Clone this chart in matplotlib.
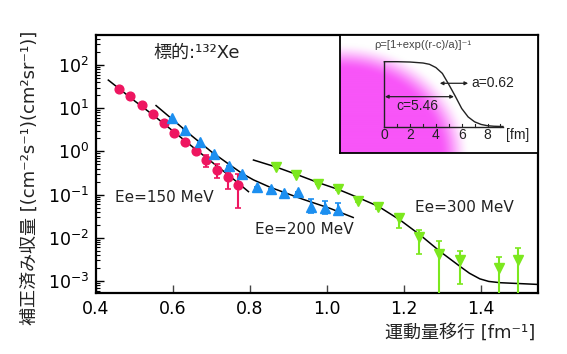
import numpy as np
import matplotlib
matplotlib.use("Agg")
import matplotlib.pyplot as plt

plt.rcParams['font.family'] = ['DejaVu Sans', 'Noto Sans CJK JP']
plt.rcParams['mathtext.fontset'] = 'dejavusans'

# ---- data ----
# Ee = 150 MeV
x150 = [0.460, 0.489, 0.519, 0.547, 0.576, 0.603, 0.632, 0.660, 0.687, 0.715, 0.743, 0.770]
y150 = [27.8, 19.5, 11.7, 7.35, 4.62, 2.71, 1.68, 1.00, 0.632, 0.372, 0.260, 0.167]
lo150 = [0, 0, 0, 0, 0, 0, 0, 0, 0.189, 0.134, 0.125, 0.119]
hi150 = [0, 0, 0, 0, 0, 0, 0, 0, 0.194, 0.130, 0.079, 0.128]

# Ee = 200 MeV
x200 = [0.598, 0.632, 0.670, 0.706, 0.745, 0.779, 0.819, 0.854, 0.889, 0.925, 0.959, 0.995, 1.029]
y200 = [5.83, 3.08, 1.68, 0.857, 0.468, 0.295, 0.152, 0.135, 0.111, 0.113, 0.0525, 0.0482, 0.0441]
lo200 = [0, 0, 0, 0, 0, 0, 0, 0, 0, 0, 0.0156, 0.0126, 0.0085]
hi200 = [0, 0, 0, 0, 0, 0, 0, 0, 0, 0, 0.0253, 0.0241, 0.0209]

# Ee = 300 MeV
x300 = [0.867, 0.920, 0.976, 1.029, 1.081, 1.133, 1.187, 1.240, 1.292, 1.345, 1.447, 1.497]
y300 = [0.427, 0.284, 0.179, 0.135, 0.0724, 0.0508, 0.0282, 0.0107, 0.00422, 0.00309, 0.00197, 0.00309]
lo300 = [0, 0, 0, 0.008, 0.006, 0.004, 0.0116, 0.0065, 0.004219, 0.00225, 0.001969, 0.003089]
hi300 = [0, 0, 0, 0.008, 0.006, 0.004, 0.0055, 0.0045, 0.00435, 0.00193, 0.00168, 0.00272]

# fitted curves
cx150 = [0.432, 0.500, 0.550, 0.600, 0.650, 0.700, 0.750, 0.796]
cy150 = [44.7, 14.8, 6.76, 2.95, 1.29, 0.575, 0.257, 0.117]
cx200 = [0.556, 0.600, 0.650, 0.700, 0.748, 0.781, 0.809, 0.852, 0.895, 0.938, 1.008, 1.068]
cy200 = [11.5, 5.37, 2.24, 0.977, 0.484, 0.302, 0.219, 0.148, 0.107, 0.0776, 0.0479, 0.0295]
cx300 = [0.809, 0.867, 0.920, 0.976, 1.029, 1.081, 1.133, 1.190, 1.242, 1.294, 1.345,
         1.370, 1.397, 1.420, 1.450, 1.500, 1.548]
cy300 = [0.631, 0.437, 0.295, 0.191, 0.132, 0.0851, 0.0537, 0.0257, 0.0116, 0.00479, 0.00219,
         0.00151, 0.00112, 0.000977, 0.000912, 0.000871, 0.000832]

# inset: charge density profile
r_fm = [0, 1, 2, 3, 3.5, 4, 4.5, 5, 5.5, 6, 6.5, 7, 7.5, 8, 8.5, 9.2]
rho = [1.0, 1.0, 0.995, 0.98, 0.96, 0.91, 0.82, 0.65, 0.47, 0.28, 0.15, 0.075, 0.035, 0.015, 0.007, 0.003]
inset_ticks = [0, 2, 4, 6, 8]

xticks = [0.4, 0.6, 0.8, 1.0, 1.2, 1.4]
xticklabels = ['0.4', '0.6', '0.8', '1.0', '1.2', '1.4']

c_red = '#ee1660'
c_blue = '#1c8ff0'
c_green = '#7ce81e'
inset_font = ['Liberation Sans', 'DejaVu Sans']

W, H = 567, 354
fig = plt.figure(figsize=(W / 100, H / 100), dpi=100)
L, R, T, B = 96, 538, 35, 293.3
ax = fig.add_axes([L / W, 1 - B / H, (R - L) / W, (B - T) / H])
ax.set_yscale('log')
ax.set_xlim(0.4, 1.548)
ax.set_ylim(10 ** -3.285, 10 ** 2.694)

for s in ax.spines.values():
    s.set_linewidth(1.6)
ax.set_xticks(xticks)
ax.set_xticklabels(xticklabels)
ax.tick_params(axis='x', which='major', direction='in', length=6, width=1, color='#444',
               labelsize=12.5, pad=5, top=False)
ax.tick_params(axis='x', which='minor', bottom=False, top=False)
ax.tick_params(axis='y', which='major', direction='in', length=5.5, width=1, labelsize=12.5,
               pad=5, right=False)
ax.tick_params(axis='y', which='minor', direction='in', length=3, width=0.8, right=False)
ax.yaxis.set_major_locator(matplotlib.ticker.LogLocator(base=10, numticks=12))
ax.yaxis.set_minor_locator(matplotlib.ticker.LogLocator(base=10, subs=np.arange(2, 10), numticks=12))

# curves
ax.plot(cx150, cy150, color='black', lw=1.1, zorder=2)
ax.plot(cx200, cy200, color='black', lw=1.1, zorder=2)
ax.plot(cx300, cy300, color='black', lw=1.1, zorder=2)

# data
ax.errorbar(x150, y150, yerr=[lo150, hi150], fmt='o', color=c_red, ms=6.3, mec=c_red,
            ecolor=c_red, elinewidth=1.5, capsize=2, capthick=1.2, zorder=3)
ax.errorbar(x200, y200, yerr=[lo200, hi200], fmt='^', color=c_blue, ms=7, mec=c_blue,
            ecolor=c_blue, elinewidth=1.5, capsize=2, capthick=1.2, zorder=3)
ax.errorbar(x300, y300, yerr=[lo300, hi300], fmt='v', color=c_green, ms=6.5, mec=c_green,
            ecolor=c_green, elinewidth=1.5, capsize=2, capthick=1.2, zorder=3)

# annotations
ax.text((153 - L) / (R - L), (B - 53) / (B - T), '標的:¹³²Xe', transform=ax.transAxes,
        fontsize=13, ha='left', va='center', color='#222')
ax.text((115 - L) / (R - L), (B - 198) / (B - T), 'Ee=150 MeV', transform=ax.transAxes,
        fontsize=11, ha='left', va='center', color='#222')
ax.text((255 - L) / (R - L), (B - 229) / (B - T), 'Ee=200 MeV', transform=ax.transAxes,
        fontsize=11, ha='left', va='center', color='#222')
ax.text((415 - L) / (R - L), (B - 207) / (B - T), 'Ee=300 MeV', transform=ax.transAxes,
        fontsize=11, ha='left', va='center', color='#222')

fig.text(30 / W, 1 - 178 / H, '補正済み収量 [(cm⁻²s⁻¹)(cm²sr⁻¹)]', rotation=90,
         ha='center', va='center', fontsize=13, color='#222')
fig.text(535 / W, 1 - 333 / H, '運動量移行 [fm⁻¹]', ha='right', va='center',
         fontsize=13, color='#222')

# ---- inset ----
IL, IR, IT, IB = 340, 538, 35, 152.7
iax = fig.add_axes([IL / W, 1 - IB / H, (IR - IL) / W, (IB - IT) / H], zorder=5)
x0px, pxfm = 384.3, 12.9
y0px, pxrho = 126.7, 65.0
xl = ((IL - x0px) / pxfm, (IR - x0px) / pxfm)
yl = ((y0px - IB) / pxrho, (y0px - IT) / pxrho)
iax.set_xlim(*xl)
iax.set_ylim(*yl)
iax.set_xticks([])
iax.set_yticks([])
for s in iax.spines.values():
    s.set_linewidth(1.3)

# radial magenta gradient background
nw, nh = int(IR - IL), int(IB - IT)
jj, ii = np.meshgrid(np.arange(nw) + IL, np.arange(nh) + IT)
d = np.hypot((jj - 340) / 1.15, ii - 155)
a = np.clip((113 - d) / 27, 0, 1)
a = a * a * (3 - 2 * a)
mag = np.array([248, 85, 248]) / 255.0
img = np.ones((nh, nw, 3)) * (1 - a[..., None]) + mag * a[..., None]
iax.imshow(img, extent=[xl[0], xl[1], yl[0], yl[1]], origin='upper', aspect='auto', zorder=0)

iax.plot([0, 9.2], [0, 0], color='#222', lw=1.0, zorder=2)
iax.plot([0, 0], [0, 1.0], color='#222', lw=1.0, zorder=2)
for t in range(1, 10):
    iax.plot([t, t], [0, 0.035], color='#222', lw=0.8, zorder=2)
iax.plot(r_fm, rho, color='#222', lw=1.0, zorder=2)
for t in inset_ticks:
    iax.text(t, -0.135, str(t), ha='center', va='center', fontsize=10,
             family=inset_font, color='#222')
iax.text(10.3, -0.135, '[fm]', ha='center', va='center', fontsize=10,
         family=inset_font, color='#222')
iax.text(3.0, 1.257, 'ρ=[1+exp((r-c)/a)]⁻¹', ha='center', va='center', fontsize=8,
         family=inset_font, color='#444')
iax.annotate('', xy=(6.5, 0.668), xytext=(4.3, 0.668),
             arrowprops=dict(arrowstyle='<|-|>', color='#222', lw=0.9, mutation_scale=5,
                             shrinkA=0, shrinkB=0))
iax.text(6.78, 0.668, 'a=0.62', ha='left', va='center', fontsize=10,
         family=inset_font, color='#222')
iax.annotate('', xy=(5.4, 0.462), xytext=(0.05, 0.462),
             arrowprops=dict(arrowstyle='<|-|>', color='#222', lw=0.9, mutation_scale=5,
                             shrinkA=0, shrinkB=0))
iax.text(2.6, 0.318, 'c=5.46', ha='center', va='center', fontsize=10,
         family=inset_font, color='#222')

fig.savefig('out.png', dpi=100)
